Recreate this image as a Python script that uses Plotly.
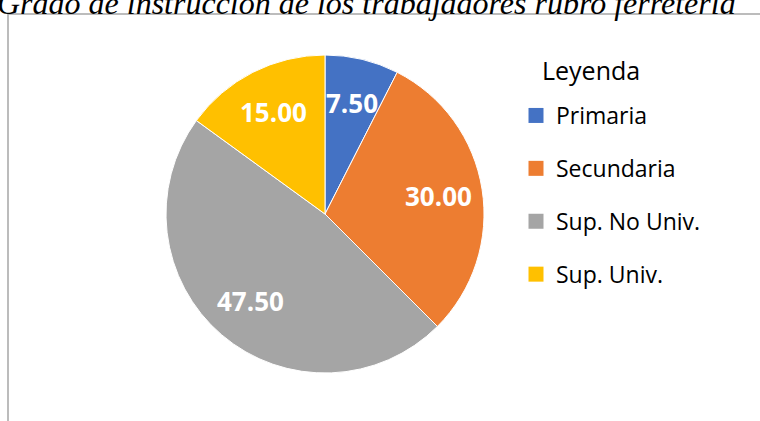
import math
import plotly.graph_objects as go

categories = ["Primaria", "Secundaria", "Sup. No Univ.", "Sup. Univ."]
values = [7.50, 30.00, 47.50, 15.00]
colors = ["#4472C4", "#ED7D31", "#A5A5A5", "#FFC000"]
title_text = "Grado de instrucción de los trabajadores rubro ferretería"
legend_title = "Leyenda"

W, H = 760, 421
# pie geometry (pixels)
CX, CY, R = 325, 214, 159
LABEL_FRAC = 0.72

fig = go.Figure()

fig.add_trace(go.Pie(
    labels=categories, values=values,
    marker=dict(colors=colors, line=dict(color="white", width=1)),
    sort=False, direction="clockwise", rotation=0,
    textinfo="none",
    domain=dict(x=[(CX - R) / W, (CX + R) / W], y=[1 - (CY + R) / H, 1 - (CY - R) / H]),
    showlegend=False, hoverinfo="label+value",
))

# data labels placed at the mid-angle of each slice
total = sum(values)
cum = 0.0
for v in values:
    mid = (cum + v / 2) / total * 2 * math.pi
    cum += v
    px = CX + R * LABEL_FRAC * math.sin(mid)
    py = CY - R * LABEL_FRAC * math.cos(mid)
    fig.add_annotation(
        text=f"{v:.2f}", xref="paper", yref="paper", x=px / W, y=1 - py / H,
        xanchor="center", yanchor="middle", showarrow=False,
        font=dict(color="white", size=26, family="Open Sans", weight="bold"),
    )

for i, (c, col) in enumerate(zip(categories, colors)):
    fig.add_trace(go.Scatter(
        x=[None], y=[None], mode="markers", name=c,
        marker=dict(symbol="square", size=15, color=col),
        legendgroup=f"g{i}", showlegend=True,
    ))

fig.add_annotation(
    text=title_text, xref="paper", yref="paper", x=366 / W, y=1 - 14 / H,
    xanchor="center", yanchor="bottom", yshift=-9, showarrow=False,
    font=dict(family="Liberation Serif", size=32, color="black", style="italic"),
)

fig.add_annotation(
    text=legend_title, xref="paper", yref="paper", x=540 / W, y=1 - 70 / H,
    xanchor="left", yanchor="middle", showarrow=False,
    font=dict(size=25, family="Open Sans", color="black"),
)

fig.update_layout(
    width=W, height=H,
    margin=dict(l=0, r=0, t=0, b=0, autoexpand=False),
    paper_bgcolor="white", plot_bgcolor="white",
    xaxis=dict(visible=False), yaxis=dict(visible=False),
    legend=dict(
        x=516 / W, y=1 - 94 / H, xanchor="left", yanchor="top",
        font=dict(size=23, family="Open Sans", color="black"),
        tracegroupgap=20, itemwidth=30, bgcolor="rgba(0,0,0,0)",
    ),
    shapes=[
        dict(type="line", xref="paper", yref="paper", x0=8 / W, x1=1, y0=1 - 14 / H, y1=1 - 14 / H,
             line=dict(color="#A6A6A6", width=1.5), layer="below"),
        dict(type="line", xref="paper", yref="paper", x0=8 / W, x1=8 / W, y0=0, y1=1 - 14 / H,
             line=dict(color="#A6A6A6", width=1.5), layer="below"),
    ],
)

fig.write_html("out.html", config={"displayModeBar": False},
               post_script="document.body.style.margin='0';")
